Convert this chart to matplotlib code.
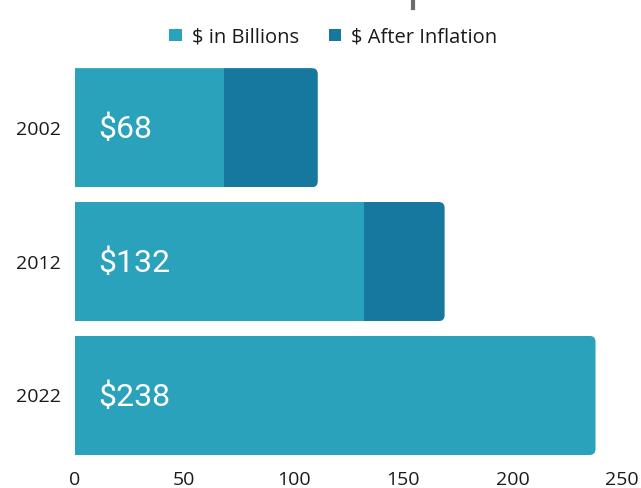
import matplotlib
matplotlib.use("Agg")
import matplotlib.pyplot as plt
from matplotlib.patches import FancyBboxPatch
from matplotlib.lines import Line2D

years = ["2002", "2012", "2022"]
billions = [68, 132, 238]
after_inflation = [43, 37, 0]   # extra on top of the nominal value
value_labels = ["$68", "$132", "$238"]
xticks = [0, 50, 100, 150, 200, 250]

light = "#2aa2bb"
dark = "#16789e"

plt.rcParams['font.family'] = ['Open Sans', 'DejaVu Sans']

fig = plt.figure(figsize=(6.41, 4.88), dpi=100)
ax = fig.add_axes([0.117, 0.0525, 0.853, 0.823])

pos = list(range(len(years)))
h = 0.89
b1 = ax.barh(pos, billions, height=h, color=light, label=r"\$ in Billions")
b2 = ax.barh(pos, after_inflation, left=billions, height=h, color=dark,
             label=r"\$ After Inflation")

ax.set_xlim(0, 250)
ax.set_ylim(2.5, -0.5)

# rounded right ends: clip each row's segments to a rounded box
xr = 2.188  # px per x unit
yr = 134.0  # px per y unit
for i in pos:
    total = billions[i] + after_inflation[i]
    clip = FancyBboxPatch((-30, i - h / 2), total + 30, h,
                          boxstyle="round,pad=0,rounding_size=%f" % (6 / xr),
                          mutation_aspect=xr / yr,
                          transform=ax.transData, facecolor="none",
                          edgecolor="none")
    ax.add_patch(clip)
    b1.patches[i].set_clip_path(clip)
    b2.patches[i].set_clip_path(clip)

for i, lab in zip(pos, value_labels):
    ax.annotate(lab.replace("$", r"\$"), (0, i), xytext=(17, -1),
                textcoords="offset points", ha="left", va="center",
                color="white", fontsize=23, family=["Roboto", "DejaVu Sans"])

ax.set_yticks(pos)
ax.set_yticklabels(years, fontsize=14, color="#1a1a1a")
ax.set_xticks(xticks)
ax.set_xticklabels([str(t) for t in xticks], fontsize=14, color="#1a1a1a")
ax.tick_params(axis="y", length=0, pad=10)
ax.tick_params(axis="x", length=0, pad=6)
for s in ax.spines.values():
    s.set_visible(False)

fig.legend(handles=[b1, b2], loc="center", bbox_to_anchor=(0.52, 0.924),
           ncol=2, frameon=False, fontsize=14.5, handlelength=0.6,
           handleheight=0.6, handletextpad=0.5, columnspacing=1.5,
           labelcolor="#1a1a1a")

# small grey mark cut off at the top edge
fig.add_artist(Line2D([0.644, 0.644], [1.0, 1 - 8 / 488], color="#6b6b6b",
                      linewidth=3, transform=fig.transFigure))

fig.savefig("out.png", dpi=100)
